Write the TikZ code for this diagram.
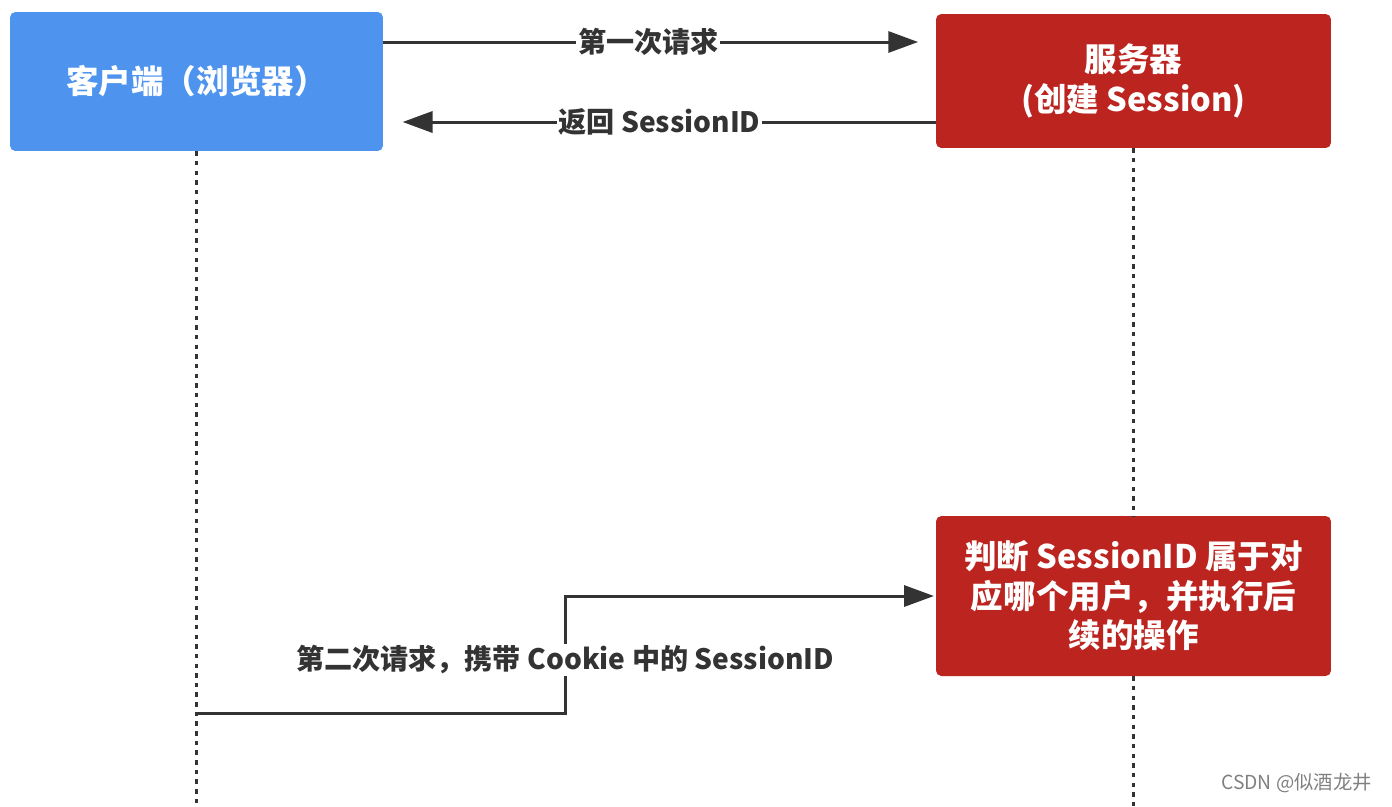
\documentclass[tikz,border=0pt]{standalone}
\usepackage{fontspec}
\setmainfont{Noto Sans CJK SC}
\usepackage[usenames, dvipsnames]{xcolor}
\usetikzlibrary{arrows.meta}

\definecolor{clientblue}{HTML}{4E94EF}
\definecolor{serverred}{HTML}{BC2420}
\definecolor{linegray}{HTML}{333333}

\tikzset{
  box/.style={rounded corners=3pt, text=white, font=\bfseries\fontsize{18.5}{22.5}\selectfont, align=center, inner sep=0pt},
  msg/.style={draw=linegray, line width=1.7pt, -{Triangle[length=17pt,width=12pt]}},
  msglabel/.style={fill=white, text=linegray, font=\bfseries\fontsize{16}{19}\selectfont, inner sep=1pt},
  lifeline/.style={draw=linegray, line width=1.5pt, dash pattern=on 2.5pt off 3pt}
}

\begin{document}
\begin{tikzpicture}[x=0.02cm, y=-0.02cm]
\useasboundingbox (0,0) rectangle (1392,806);

\node[box, fill=clientblue, minimum width=7.46cm, minimum height=2.78cm] (client) at (196.5,81.5) {客户端（浏览器）};
\node[box, fill=serverred, minimum width=7.9cm, minimum height=2.68cm] (server) at (1133.5,81) {服务器\\(创建 Session)};
\node[box, fill=serverred, minimum width=7.9cm, minimum height=3.2cm] (judge) at (1133.5,596) {判断 SessionID 属于对\\应哪个用户，并执行后\\续的操作};

\draw[lifeline] (client.south) -- (client.south |- 0,806);
\draw[lifeline] (server.south) -- (judge.north);
\draw[lifeline] (judge.south) -- (judge.south |- 0,806);

\draw[msg, shorten >=10pt] (client.east |- 0,42) -- (server.west |- 0,42)
  node[msglabel, pos=0.48] (first) {第一次请求};
\draw[msg, shorten >=11pt] (server.west |- 0,122) -- (client.east |- 0,122)
  node[msglabel, pos=0.5] (back) {返回 SessionID};

\coordinate (bend) at (565,713);
\draw[msg, shorten >=1pt] (client.south |- bend) -- (bend) -- (bend |- judge.west) -- (judge.west);
\node[msglabel] (second) at (565,660) {第二次请求，携带 Cookie 中的 SessionID};

\node[anchor=east, text=gray, font=\fontsize{11}{13}\selectfont] (mark) at (1378,783) {CSDN @似酒龙井};
\end{tikzpicture}
\end{document}
